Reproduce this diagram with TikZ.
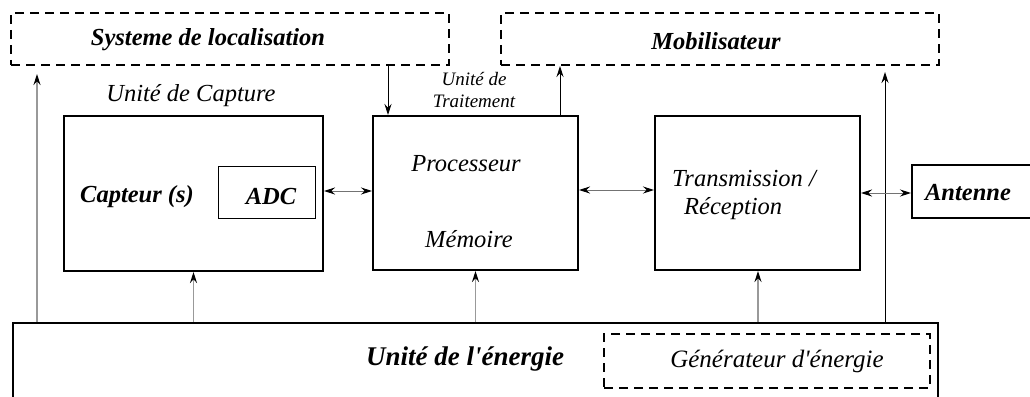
\documentclass[tikz,border=0pt]{standalone}
\usepackage{fontspec}
\setmainfont{Liberation Serif}
\usetikzlibrary{arrows.meta}
\tikzset{
  blk/.style={draw=black, line width=2pt, inner sep=0pt, anchor=north west},
  dbox/.style={draw=black, line width=2pt, dash pattern=on 9pt off 6pt, inner sep=0pt, anchor=north west},
  thin box/.style={draw=black, line width=0.9pt, inner sep=0pt, anchor=north west},
  lbl/.style={font=\fontsize{24.5}{28}\selectfont\itshape, inner sep=0pt},
  blbl/.style={font=\fontsize{24.5}{28}\selectfont\bfseries\itshape, inner sep=0pt},
  tip/.style={-{Stealth[length=11pt,width=7pt,black]}},
  dtip/.style={{Stealth[length=11pt,width=7pt,black]}-{Stealth[length=11pt,width=7pt,black]}},
  feed/.style={tip, draw=black!40, line width=1.1pt},
  sig/.style={tip, draw=black, line width=0.9pt},
  link/.style={dtip, draw=black!55, line width=1pt},
}
\begin{document}
\begin{tikzpicture}[x=1pt,y=-1pt]
\useasboundingbox[fill=white] (0,0) rectangle (1030,396);

% dashed outer blocks
\node[dbox, minimum width=438pt, minimum height=52pt] (loc) at (10,12) {};
\node[blbl] at (208,40) {Systeme de localisation};
\node[dbox, minimum width=438pt, minimum height=52pt] (mob) at (500,12) {};
\node[blbl] at (716,41) {Mobilisateur};

% main blocks
\node[blk, minimum width=259pt, minimum height=155pt] (cap) at (63,115) {};
\node[thin box, minimum width=97pt, minimum height=52pt] (adc) at (218,166) {};
\node[blk, minimum width=205pt, minimum height=154pt] (proc) at (372,115) {};
\node[blk, minimum width=205pt, minimum height=154pt] (trx) at (654,115) {};
\node[blk, minimum width=130pt, minimum height=53pt] (ant) at (911,164) {};
\node[blk, minimum width=925pt, minimum height=110pt] (nrj) at (12,322) {};
\node[dbox, minimum width=326pt, minimum height=54pt] (gen) at (603,333) {};

% labels
\node[lbl] at (191,96) {Unité de Capture};
\node[lbl, font=\fontsize{19}{22}\selectfont\itshape, align=center] at (474,90) {Unité de\\Traitement};
\node[blbl] at (137,197) {Capteur (s)};
\node[blbl] at (271,197) {ADC};
\node[lbl] at (466,164) {Processeur};
\node[lbl] at (469,239) {Mémoire};
\node[lbl, anchor=west] at (672,179) {Transmission /};
\node[lbl, anchor=west] at (684,209) {Réception};
\node[blbl] at (968,193) {Antenne};
\node[blbl, font=\fontsize{27}{31}\selectfont\bfseries\itshape] at (465,359) {Unité de l\textquotesingle énergie};
\node[lbl, font=\fontsize{25}{29}\selectfont\itshape] at (777,361) {Générateur d\textquotesingle énergie};

% energy feeds
\coordinate (locin) at (37,74);
\coordinate (mobin) at (885,72);
\draw[feed] (nrj.north -| locin) -- (locin);
\draw[feed] (nrj.north -| cap.south) -- (cap.south);
\draw[feed] (nrj.north -| proc.south) -- (proc.south);
\draw[feed] (nrj.north -| 758,0) -- (trx.south -| 758,0);
\draw[sig] (nrj.north -| mobin) -- (mobin);

% control signals
\draw[sig] (loc.south -| 388,0) -- (proc.north -| 388,0);
\draw[sig] (proc.north -| 560,0) -- (mob.south -| 560,0);

% data links
\draw[link] (cap.east |- 0,191) -- (proc.west |- 0,191);
\draw[link] (proc.east |- 0,190) -- (trx.west |- 0,190);
\draw[link] (trx.east |- 0,193) -- (ant.west |- 0,193);
\end{tikzpicture}
\end{document}
